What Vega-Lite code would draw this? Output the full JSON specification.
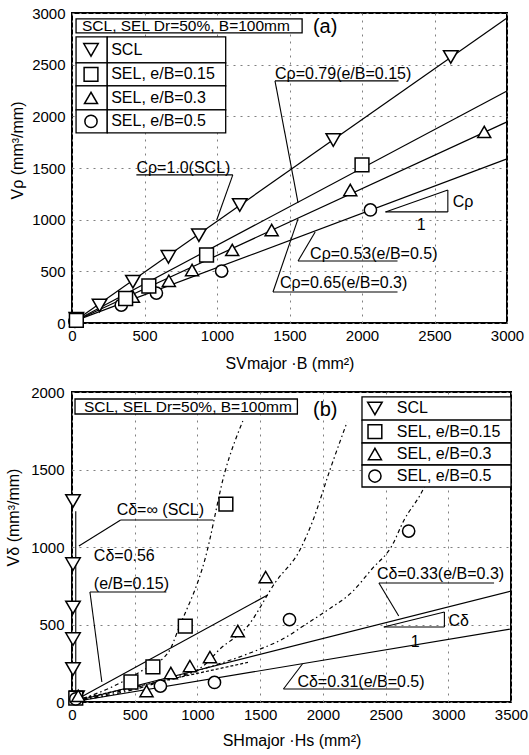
{
  "$schema": "https://vega.github.io/schema/vega-lite/v6.json",
  "background": "white",
  "padding": {"left": 4, "top": 5, "right": 0, "bottom": 0},
  "spacing": 12,
  "datasets": {
    "a_pts": [
      {"s": "SCL", "x": 30, "y": 40}, {"s": "SCL", "x": 190, "y": 170}, {"s": "SCL", "x": 420, "y": 400}, {"s": "SCL", "x": 665, "y": 640}, {"s": "SCL", "x": 875, "y": 850}, {"s": "SCL", "x": 1157, "y": 1142}, {"s": "SCL", "x": 1802, "y": 1771}, {"s": "SCL", "x": 2612, "y": 2575},
      {"s": "SEL, e/B=0.3", "x": 30, "y": 25}, {"s": "SEL, e/B=0.3", "x": 420, "y": 255}, {"s": "SEL, e/B=0.3", "x": 668, "y": 408}, {"s": "SEL, e/B=0.3", "x": 828, "y": 513}, {"s": "SEL, e/B=0.3", "x": 1105, "y": 707}, {"s": "SEL, e/B=0.3", "x": 1377, "y": 900}, {"s": "SEL, e/B=0.3", "x": 1919, "y": 1287}, {"s": "SEL, e/B=0.3", "x": 2843, "y": 1849},
      {"s": "SEL, e/B=0.5", "x": 20, "y": 15}, {"s": "SEL, e/B=0.5", "x": 340, "y": 174}, {"s": "SEL, e/B=0.5", "x": 582, "y": 290}, {"s": "SEL, e/B=0.5", "x": 1032, "y": 503}, {"s": "SEL, e/B=0.5", "x": 2058, "y": 1094},
      {"s": "SEL, e/B=0.15", "x": 30, "y": 25}, {"s": "SEL, e/B=0.15", "x": 370, "y": 237}, {"s": "SEL, e/B=0.15", "x": 530, "y": 358}, {"s": "SEL, e/B=0.15", "x": 928, "y": 658}, {"s": "SEL, e/B=0.15", "x": 2000, "y": 1530}
    ],
    "a_fit": [
      {"g": "SCL", "x": 20, "y": 20}, {"g": "SCL", "x": 3000, "y": 2952},
      {"g": "0.15", "x": 20, "y": 20}, {"g": "0.15", "x": 3000, "y": 2246},
      {"g": "0.3", "x": 20, "y": 20}, {"g": "0.3", "x": 3000, "y": 1946},
      {"g": "0.5", "x": 20, "y": 20}, {"g": "0.5", "x": 3000, "y": 1588}
    ],
    "a_rules": [
      {"x": 444, "y": 1433, "x2": 1109, "y2": 1433}, {"x": 1109, "y": 1433, "x2": 998, "y2": 997},
      {"x": 1400, "y": 2343, "x2": 2252, "y2": 2343}, {"x": 1400, "y": 2343, "x2": 1559, "y2": 1162},
      {"x": 1386, "y": 300, "x2": 2245, "y2": 300}, {"x": 1386, "y": 300, "x2": 1559, "y2": 1007},
      {"x": 1559, "y": 600, "x2": 2245, "y2": 600}, {"x": 1559, "y": 600, "x2": 1677, "y2": 881},
      {"x": 2162, "y": 1075, "x2": 2592, "y2": 1075}, {"x": 2592, "y": 1075, "x2": 2592, "y2": 1288}, {"x": 2162, "y": 1075, "x2": 2592, "y2": 1288}
    ],
    "a_boxes": [
      {"x": 28, "x2": 1587, "y": 2807, "y2": 2943},
      {"x": 28, "x2": 243, "y": 2517, "y2": 2769}, {"x": 243, "x2": 1060, "y": 2517, "y2": 2769},
      {"x": 28, "x2": 243, "y": 2294, "y2": 2517}, {"x": 243, "x2": 1060, "y": 2294, "y2": 2517},
      {"x": 28, "x2": 243, "y": 2062, "y2": 2294}, {"x": 243, "x2": 1060, "y": 2062, "y2": 2294},
      {"x": 28, "x2": 243, "y": 1839, "y2": 2062}, {"x": 243, "x2": 1060, "y": 1839, "y2": 2062}
    ],
    "a_leg": [
      {"s": "SCL", "x": 131, "y": 2643}, {"s": "SEL, e/B=0.15", "x": 131, "y": 2406},
      {"s": "SEL, e/B=0.3", "x": 131, "y": 2178}, {"s": "SEL, e/B=0.5", "x": 131, "y": 1951}
    ],
    "a_text": [
      {"x": 444, "y": 1500, "t": "Cρ=1.0(SCL)"},
      {"x": 1400, "y": 2410, "t": "Cρ=0.79(e/B=0.15)"},
      {"x": 1434, "y": 387, "t": "Cρ=0.65(e/B=0.3)"},
      {"x": 1642, "y": 668, "t": "Cρ=0.53(e/B=0.5)"},
      {"x": 2626, "y": 1171, "t": "Cρ"},
      {"x": 2377, "y": 949, "t": "1"},
      {"x": 270, "y": 2643, "t": "SCL"},
      {"x": 270, "y": 2406, "t": "SEL, e/B=0.15"},
      {"x": 270, "y": 2178, "t": "SEL, e/B=0.3"},
      {"x": 270, "y": 1951, "t": "SEL, e/B=0.5"}
    ],
    "a_title": [{"x": 69, "y": 2875, "t": "SCL, SEL Dr=50%, B=100mm"}],
    "a_tag": [{"x": 1746, "y": 2865, "t": "(a)"}],
    "b_pts": [
      {"s": "SCL", "x": 8, "y": 1297}, {"s": "SCL", "x": 8, "y": 890}, {"s": "SCL", "x": 8, "y": 610}, {"s": "SCL", "x": 8, "y": 406}, {"s": "SCL", "x": 8, "y": 213}, {"s": "SCL", "x": 40, "y": 30},
      {"s": "SEL, e/B=0.15", "x": 30, "y": 25}, {"s": "SEL, e/B=0.15", "x": 470, "y": 129}, {"s": "SEL, e/B=0.15", "x": 645, "y": 226}, {"s": "SEL, e/B=0.15", "x": 903, "y": 490}, {"s": "SEL, e/B=0.15", "x": 1227, "y": 1277},
      {"s": "SEL, e/B=0.5", "x": 30, "y": 20}, {"s": "SEL, e/B=0.5", "x": 705, "y": 103}, {"s": "SEL, e/B=0.5", "x": 1136, "y": 126}, {"s": "SEL, e/B=0.5", "x": 1734, "y": 532}, {"s": "SEL, e/B=0.5", "x": 2684, "y": 1103},
      {"s": "SEL, e/B=0.3", "x": 50, "y": 40}, {"s": "SEL, e/B=0.3", "x": 594, "y": 71}, {"s": "SEL, e/B=0.3", "x": 788, "y": 187}, {"s": "SEL, e/B=0.3", "x": 940, "y": 232}, {"s": "SEL, e/B=0.3", "x": 1100, "y": 290}, {"s": "SEL, e/B=0.3", "x": 1322, "y": 458}, {"s": "SEL, e/B=0.3", "x": 1544, "y": 806}
    ],
    "b_fit": [
      {"g": "0.56", "x": 0, "y": 0}, {"g": "0.56", "x": 1560, "y": 690},
      {"g": "0.33", "x": 0, "y": 0}, {"g": "0.33", "x": 3500, "y": 716},
      {"g": "0.31", "x": 0, "y": 0}, {"g": "0.31", "x": 3500, "y": 471}
    ],
    "b_curves": [
      {"g": "c1", "x": 0, "y": 0}, {"g": "c1", "x": 300, "y": 90}, {"g": "c1", "x": 554, "y": 200}, {"g": "c1", "x": 768, "y": 320}, {"g": "c1", "x": 858, "y": 490}, {"g": "c1", "x": 1061, "y": 923}, {"g": "c1", "x": 1219, "y": 1484}, {"g": "c1", "x": 1362, "y": 1813},
      {"g": "c2", "x": 0, "y": 0}, {"g": "c2", "x": 650, "y": 116}, {"g": "c2", "x": 1045, "y": 232}, {"g": "c2", "x": 1180, "y": 342}, {"g": "c2", "x": 1401, "y": 490}, {"g": "c2", "x": 1623, "y": 774}, {"g": "c2", "x": 1821, "y": 987}, {"g": "c2", "x": 1916, "y": 1161}, {"g": "c2", "x": 2059, "y": 1503}, {"g": "c2", "x": 2193, "y": 1806},
      {"g": "c3", "x": 0, "y": 0}, {"g": "c3", "x": 1045, "y": 213}, {"g": "c3", "x": 1441, "y": 323}, {"g": "c3", "x": 1679, "y": 406}, {"g": "c3", "x": 1892, "y": 516}, {"g": "c3", "x": 2051, "y": 600}, {"g": "c3", "x": 2233, "y": 710}, {"g": "c3", "x": 2391, "y": 858}, {"g": "c3", "x": 2549, "y": 1006}, {"g": "c3", "x": 2652, "y": 1181}, {"g": "c3", "x": 2771, "y": 1329}, {"g": "c3", "x": 2830, "y": 1420}
    ],
    "b_dash": [{"g": "d", "x": 55, "y": 19}, {"g": "d", "x": 1417, "y": 258}],
    "b_rules": [
      {"x": 30, "y": 0, "x2": 30, "y2": 1230},
      {"x": 388, "y": 1174, "x2": 1124, "y2": 1174}, {"x": 388, "y": 1174, "x2": 55, "y2": 1006},
      {"x": 143, "y": 710, "x2": 752, "y2": 710}, {"x": 143, "y": 710, "x2": 238, "y2": 129},
      {"x": 2447, "y": 768, "x2": 3365, "y2": 768}, {"x": 2447, "y": 768, "x2": 2605, "y2": 555},
      {"x": 1686, "y": 84, "x2": 2613, "y2": 84}, {"x": 1686, "y": 84, "x2": 1837, "y2": 245},
      {"x": 2486, "y": 484, "x2": 2969, "y2": 484}, {"x": 2969, "y": 484, "x2": 2969, "y2": 581}, {"x": 2486, "y": 484, "x2": 2969, "y2": 581}
    ],
    "b_boxes": [
      {"x": 24, "x2": 1797, "y": 1858, "y2": 1955},
      {"x": 2312, "x2": 3500, "y": 1819, "y2": 1968},
      {"x": 2312, "x2": 3500, "y": 1671, "y2": 1819},
      {"x": 2312, "x2": 3500, "y": 1529, "y2": 1671},
      {"x": 2312, "x2": 3500, "y": 1387, "y2": 1529}
    ],
    "b_leg": [
      {"s": "SCL", "x": 2415, "y": 1894}, {"s": "SEL, e/B=0.15", "x": 2415, "y": 1745},
      {"s": "SEL, e/B=0.3", "x": 2415, "y": 1600}, {"s": "SEL, e/B=0.5", "x": 2415, "y": 1458}
    ],
    "b_text": [
      {"x": 356, "y": 1239, "t": "Cδ=∞ (SCL)"},
      {"x": 174, "y": 942, "t": "Cδ=0.56"},
      {"x": 174, "y": 761, "t": "(e/B=0.15)"},
      {"x": 2431, "y": 826, "t": "Cδ=0.33(e/B=0.3)"},
      {"x": 1797, "y": 129, "t": "Cδ=0.31(e/B=0.5)"},
      {"x": 3001, "y": 523, "t": "Cδ"},
      {"x": 2700, "y": 387, "t": "1"},
      {"x": 2589, "y": 1894, "t": "SCL"},
      {"x": 2589, "y": 1745, "t": "SEL, e/B=0.15"},
      {"x": 2589, "y": 1600, "t": "SEL, e/B=0.3"},
      {"x": 2589, "y": 1458, "t": "SEL, e/B=0.5"}
    ],
    "b_title": [{"x": 95, "y": 1906, "t": "SCL, SEL Dr=50%, B=100mm"}],
    "b_tag": [{"x": 2019, "y": 1884, "t": "(b)"}]
  },
  "vconcat": [
    {
      "width": 435,
      "height": 310,
      "layer": [
        {
          "data": {"name": "a_fit"},
          "mark": {"type": "line", "color": "black", "strokeWidth": 1.2},
          "encoding": {
            "x": {"field": "x", "type": "quantitative", "scale": {"domain": [0, 3000], "nice": false},
              "axis": {"values": [0, 500, 1000, 1500, 2000, 2500, 3000], "format": "d", "title": "SVmajor ·B (mm²)", "labelPadding": 5, "titleY": 40, "titleBaseline": "middle"}},
            "y": {"field": "y", "type": "quantitative", "scale": {"domain": [0, 3000], "nice": false},
              "axis": {"values": [0, 500, 1000, 1500, 2000, 2500, 3000], "format": "d", "title": "Vρ (mm³/mm)", "labelPadding": 7, "titleX": -55, "titleY": 137, "titleBaseline": "middle"}},
            "detail": {"field": "g"}
          }
        },
        {
          "data": {"name": "a_rules"},
          "mark": {"type": "rule", "color": "black", "strokeWidth": 1.1},
          "encoding": {
            "x": {"field": "x", "type": "quantitative"}, "y": {"field": "y", "type": "quantitative"},
            "x2": {"field": "x2"}, "y2": {"field": "y2"}
          }
        },
        {
          "data": {"name": "a_pts"},
          "mark": {"type": "point", "filled": false, "fill": "white", "fillOpacity": 1, "stroke": "black", "strokeWidth": 1.5, "opacity": 1},
          "encoding": {
            "x": {"field": "x", "type": "quantitative"}, "y": {"field": "y", "type": "quantitative"},
            "shape": {"field": "s", "type": "nominal", "legend": null,
              "scale": {"domain": ["SCL", "SEL, e/B=0.15", "SEL, e/B=0.3", "SEL, e/B=0.5"], "range": ["triangle-down", "square", "triangle-up", "circle"]}},
            "size": {"field": "s", "type": "nominal", "legend": null,
              "scale": {"domain": ["SCL", "SEL, e/B=0.15", "SEL, e/B=0.3", "SEL, e/B=0.5"], "range": [210, 150, 210, 180]}}
          }
        },
        {
          "data": {"name": "a_boxes"},
          "mark": {"type": "rect", "fill": "white", "stroke": "black", "strokeWidth": 1.3},
          "encoding": {
            "x": {"field": "x", "type": "quantitative"}, "y": {"field": "y", "type": "quantitative"},
            "x2": {"field": "x2"}, "y2": {"field": "y2"}
          }
        },
        {
          "data": {"name": "a_leg"},
          "mark": {"type": "point", "filled": false, "fill": "white", "fillOpacity": 1, "stroke": "black", "strokeWidth": 1.5, "opacity": 1},
          "encoding": {
            "x": {"field": "x", "type": "quantitative"}, "y": {"field": "y", "type": "quantitative"},
            "shape": {"field": "s", "type": "nominal", "legend": null},
            "size": {"field": "s", "type": "nominal", "legend": null}
          }
        },
        {
          "data": {"name": "a_text"},
          "mark": {"type": "text", "align": "left", "baseline": "middle", "font": "Liberation Sans", "fontSize": 16, "color": "black"},
          "encoding": {
            "x": {"field": "x", "type": "quantitative"}, "y": {"field": "y", "type": "quantitative"},
            "text": {"field": "t"}
          }
        },
        {
          "data": {"name": "a_title"},
          "mark": {"type": "text", "align": "left", "baseline": "middle", "font": "Liberation Sans", "fontSize": 15.5, "color": "black"},
          "encoding": {
            "x": {"field": "x", "type": "quantitative"}, "y": {"field": "y", "type": "quantitative"},
            "text": {"field": "t"}
          }
        },
        {
          "data": {"name": "a_tag"},
          "mark": {"type": "text", "align": "center", "baseline": "middle", "font": "Liberation Sans", "fontSize": 20, "color": "black"},
          "encoding": {
            "x": {"field": "x", "type": "quantitative"}, "y": {"field": "y", "type": "quantitative"},
            "text": {"field": "t"}
          }
        }
      ]
    },
    {
      "width": 439,
      "height": 310,
      "layer": [
        {
          "data": {"name": "b_fit"},
          "mark": {"type": "line", "color": "black", "strokeWidth": 1.2},
          "encoding": {
            "x": {"field": "x", "type": "quantitative", "scale": {"domain": [0, 3500], "nice": false},
              "axis": {"values": [0, 500, 1000, 1500, 2000, 2500, 3000, 3500], "format": "d", "title": "SHmajor ·Hs (mm²)", "labelPadding": 5, "titleY": 38, "titleBaseline": "middle"}},
            "y": {"field": "y", "type": "quantitative", "scale": {"domain": [0, 2000], "nice": false},
              "axis": {"values": [0, 500, 1000, 1500, 2000], "format": "d", "title": "Vδ (mm³/mm)", "labelPadding": 8, "titleX": -59, "titleY": 125, "titleBaseline": "middle"}},
            "detail": {"field": "g"}
          }
        },
        {
          "data": {"name": "b_curves"},
          "mark": {"type": "line", "color": "black", "strokeWidth": 1.2, "strokeDash": [4, 3, 1.5, 3], "interpolate": "monotone"},
          "encoding": {
            "x": {"field": "x", "type": "quantitative"}, "y": {"field": "y", "type": "quantitative"},
            "detail": {"field": "g"}
          }
        },
        {
          "data": {"name": "b_dash"},
          "mark": {"type": "line", "color": "black", "strokeWidth": 1.2, "strokeDash": [3, 2]},
          "encoding": {
            "x": {"field": "x", "type": "quantitative"}, "y": {"field": "y", "type": "quantitative"},
            "detail": {"field": "g"}
          }
        },
        {
          "data": {"name": "b_rules"},
          "mark": {"type": "rule", "color": "black", "strokeWidth": 1.1},
          "encoding": {
            "x": {"field": "x", "type": "quantitative"}, "y": {"field": "y", "type": "quantitative"},
            "x2": {"field": "x2"}, "y2": {"field": "y2"}
          }
        },
        {
          "data": {"name": "b_pts"},
          "mark": {"type": "point", "filled": false, "fill": "white", "fillOpacity": 1, "stroke": "black", "strokeWidth": 1.5, "opacity": 1},
          "encoding": {
            "x": {"field": "x", "type": "quantitative"}, "y": {"field": "y", "type": "quantitative"},
            "shape": {"field": "s", "type": "nominal", "legend": null,
              "scale": {"domain": ["SCL", "SEL, e/B=0.15", "SEL, e/B=0.3", "SEL, e/B=0.5"], "range": ["triangle-down", "square", "triangle-up", "circle"]}},
            "size": {"field": "s", "type": "nominal", "legend": null,
              "scale": {"domain": ["SCL", "SEL, e/B=0.15", "SEL, e/B=0.3", "SEL, e/B=0.5"], "range": [210, 150, 210, 180]}}
          }
        },
        {
          "data": {"name": "b_boxes"},
          "mark": {"type": "rect", "fill": "white", "stroke": "black", "strokeWidth": 1.3},
          "encoding": {
            "x": {"field": "x", "type": "quantitative"}, "y": {"field": "y", "type": "quantitative"},
            "x2": {"field": "x2"}, "y2": {"field": "y2"}
          }
        },
        {
          "data": {"name": "b_leg"},
          "mark": {"type": "point", "filled": false, "fill": "white", "fillOpacity": 1, "stroke": "black", "strokeWidth": 1.5, "opacity": 1},
          "encoding": {
            "x": {"field": "x", "type": "quantitative"}, "y": {"field": "y", "type": "quantitative"},
            "shape": {"field": "s", "type": "nominal", "legend": null},
            "size": {"field": "s", "type": "nominal", "legend": null}
          }
        },
        {
          "data": {"name": "b_text"},
          "mark": {"type": "text", "align": "left", "baseline": "middle", "font": "Liberation Sans", "fontSize": 16, "color": "black"},
          "encoding": {
            "x": {"field": "x", "type": "quantitative"}, "y": {"field": "y", "type": "quantitative"},
            "text": {"field": "t"}
          }
        },
        {
          "data": {"name": "b_title"},
          "mark": {"type": "text", "align": "left", "baseline": "middle", "font": "Liberation Sans", "fontSize": 15.5, "color": "black"},
          "encoding": {
            "x": {"field": "x", "type": "quantitative"}, "y": {"field": "y", "type": "quantitative"},
            "text": {"field": "t"}
          }
        },
        {
          "data": {"name": "b_tag"},
          "mark": {"type": "text", "align": "center", "baseline": "middle", "font": "Liberation Sans", "fontSize": 20, "color": "black"},
          "encoding": {
            "x": {"field": "x", "type": "quantitative"}, "y": {"field": "y", "type": "quantitative"},
            "text": {"field": "t"}
          }
        }
      ]
    }
  ],
  "config": {
    "view": {"stroke": "black", "strokeWidth": 2},
    "font": "Liberation Sans",
    "axis": {
      "labelFont": "Liberation Sans", "labelFontSize": 15, "labelColor": "black", "labelFlush": false,
      "titleFont": "Liberation Sans", "titleFontSize": 16, "titleFontWeight": "normal", "titleColor": "black",
      "ticks": false, "domain": false, "grid": true, "gridColor": "#808080", "gridDash": [2, 5], "gridWidth": 1
    }
  }
}
